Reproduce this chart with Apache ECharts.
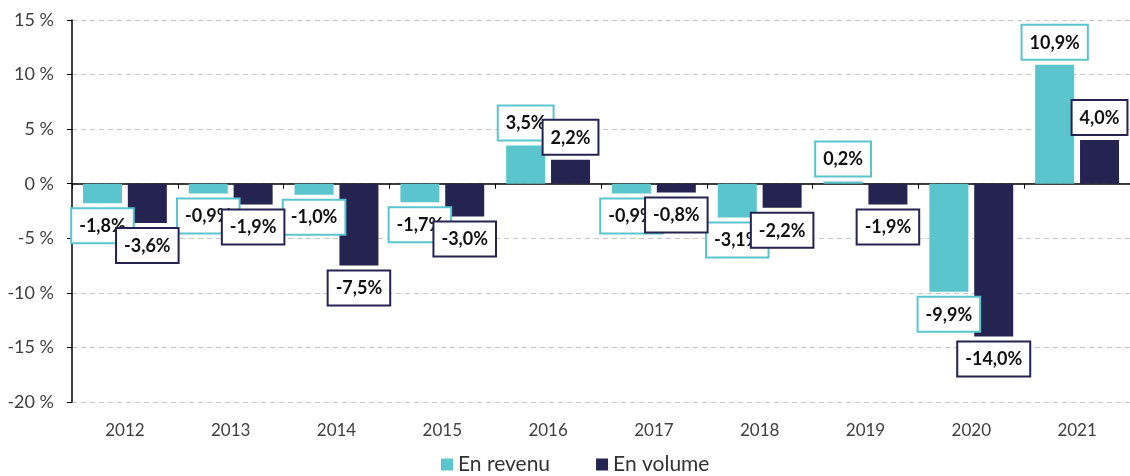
<!DOCTYPE html>
<html>
<head>
<meta charset="utf-8">
<script src="https://cdn.jsdelivr.net/npm/echarts@6/dist/echarts.min.js"></script>
<style>
  html, body { margin: 0; padding: 0; background: #fff; }
  #chart { width: 1130px; height: 476px; }
</style>
</head>
<body>
<div id="chart"></div>
<script>
// données
const years = ['2012', '2013', '2014', '2015', '2016', '2017', '2018', '2019', '2020', '2021']
const revenu = [-1.8, -0.9, -1.0, -1.7, 3.5, -0.9, -3.1, 0.2, -9.9, 10.9]
const volume = [-3.6, -1.9, -7.5, -3.0, 2.2, -0.8, -2.2, -1.9, -14.0, 4.0]

const TEAL = '#5BC5CE'
const NAVY = '#252350'
const FONT = 'Lato'

function pctLabel(p) {
  return p.value.toFixed(1).replace('.', ',') + '%'
}

function makeSeries(name, data, color) {
  return {
    name: name,
    type: 'bar',
    data: data.map(v => ({
      value: v,
      label: { position: v >= 0 ? 'top' : 'bottom' }
    })),
    barWidth: 39,
    barGap: '15%',
    itemStyle: { color: color },
    label: {
      show: true,
      distance: 6,
      formatter: pctLabel,
      fontFamily: FONT,
      fontWeight: 'bold',
      fontSize: 18,
      color: '#111',
      backgroundColor: '#fff',
      borderColor: color,
      borderWidth: 2,
      padding: [8, 7, 7, 7]
    }
  }
}

const chart = echarts.init(document.getElementById('chart'))
chart.setOption({
  animation: false,
  textStyle: { fontFamily: FONT },
  grid: { left: 72, right: 0, top: 20, bottom: 74 },
  legend: {
    top: 449,
    left: 436,
    itemWidth: 12,
    itemHeight: 12,
    itemGap: 46,
    icon: 'rect',
    textStyle: { fontFamily: FONT, fontSize: 21, color: '#333' },
    data: ['En revenu', 'En volume']
  },
  xAxis: [{
    type: 'category',
    data: years,
    axisLine: { onZero: true, lineStyle: { color: '#000', width: 1.5 } },
    axisTick: { show: true, length: 5, lineStyle: { color: '#000' } },
    axisLabel: { show: false }
  }, {
    type: 'category',
    data: years,
    position: 'bottom',
    axisLine: { show: false, onZero: false },
    axisTick: { show: false },
    axisLabel: { margin: 20, fontFamily: FONT, fontSize: 17, color: '#404040' }
  }],
  yAxis: {
    type: 'value',
    min: -20,
    max: 15,
    interval: 5,
    axisLine: { show: true, lineStyle: { color: '#000', width: 1.5 } },
    axisTick: { show: true, length: 5, lineStyle: { color: '#000' } },
    axisLabel: {
      margin: 18,
      fontFamily: FONT,
      fontSize: 18,
      color: '#404040',
      formatter: v => v + ' %'
    },
    splitLine: { lineStyle: { color: '#c8c8c8', type: [5, 4] } }
  },
  series: [
    makeSeries('En revenu', revenu, TEAL),
    makeSeries('En volume', volume, NAVY)
  ]
})
</script>
</body>
</html>
